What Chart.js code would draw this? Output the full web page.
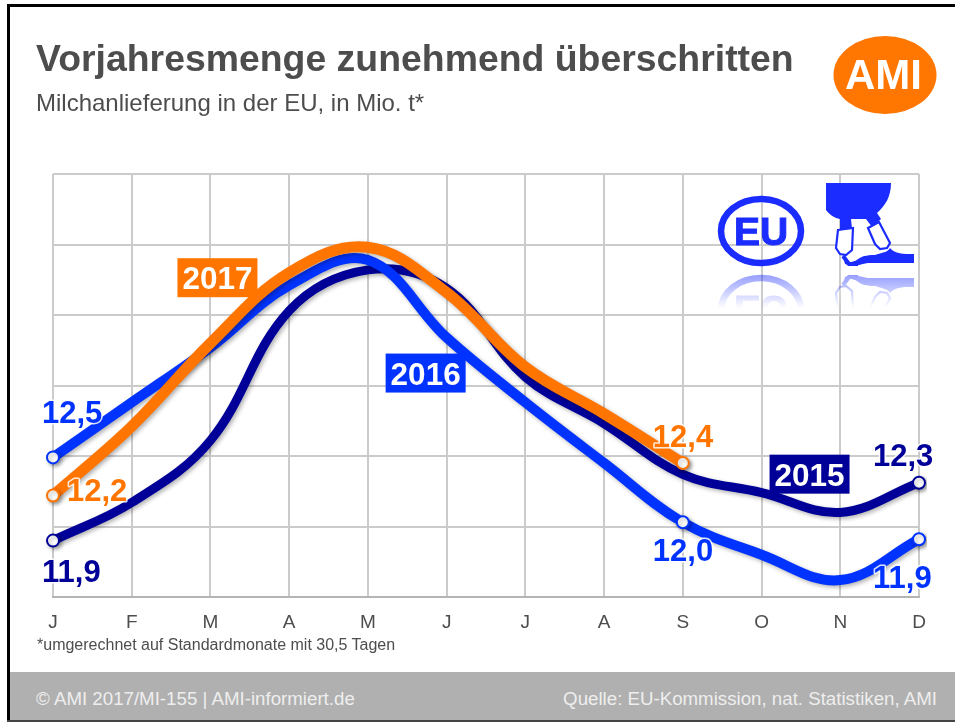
<!DOCTYPE html>
<html lang="de"><head><meta charset="utf-8"><title>Vorjahresmenge zunehmend überschritten</title>
<script src="https://cdn.jsdelivr.net/npm/chart.js@4/dist/chart.umd.min.js"></script>
<style>
html,body{margin:0;padding:0;background:#fff;width:955px;height:722px;overflow:hidden;font-family:"Liberation Sans",Arial,sans-serif}
#wrap{position:relative;width:955px;height:722px}
canvas{position:absolute;left:0;top:0}
.t{position:absolute;white-space:nowrap;line-height:1}
#frameT{position:absolute;left:7px;top:4px;right:0;height:3px;background:#000}
#frameL{position:absolute;left:7px;top:4px;width:3px;bottom:0;background:#000}
#foot{position:absolute;left:10px;right:0;top:672px;height:48px;background:#b0b0b0}
#frameB{position:absolute;left:7px;right:0;top:720px;height:2px;background:#444}
svg{position:absolute;left:0;top:0}
</style></head><body><div id="wrap">
<canvas id="c" width="955" height="722"></canvas>
<div id="frameT"></div><div id="frameL"></div><div id="foot"></div><div id="frameB"></div>
<div class="t" style="left:36px;top:40px;font-size:37.4px;font-weight:bold;color:#4d4d4d">Vorjahresmenge zunehmend überschritten</div>
<div class="t" style="left:36px;top:91px;font-size:24px;color:#4d4d4d">Milchanlieferung in der EU, in Mio. t*</div>
<div class="t" style="left:37px;top:637px;font-size:16px;color:#4d4d4d">*umgerechnet auf Standardmonate mit 30,5 Tagen</div>
<div class="t" style="left:36px;top:690px;font-size:18.7px;color:#eeeeee">© AMI 2017/MI-155 | AMI-informiert.de</div>
<div class="t" style="right:18px;top:690px;font-size:18.7px;color:#eeeeee">Quelle: EU-Kommission, nat. Statistiken, AMI</div>
<svg width="955" height="722" viewBox="0 0 955 722" font-family="Liberation Sans">
<defs>
<linearGradient id="fade" x1="0" y1="0" x2="0" y2="1"><stop offset="0" stop-color="#fff" stop-opacity=".5"/><stop offset="1" stop-color="#fff" stop-opacity="0"/></linearGradient>
<mask id="rm" maskUnits="userSpaceOnUse" x="700" y="272" width="230" height="36"><rect x="700" y="272" width="230" height="36" fill="url(#fade)"/></mask>
<g id="eu"><ellipse cx="761" cy="231" rx="40" ry="32" fill="none" stroke="#1a2cff" stroke-width="6.5"/><text x="761" y="245" text-anchor="middle" font-size="39" font-weight="bold" fill="#1a2cff" stroke="#1a2cff" stroke-width="1">EU</text></g>
<g id="milk" fill="#1a2cff" stroke="#1a2cff">
<path stroke="none" d="M826 183H891C891 197 885 206 877 213L881 219L872 227L866 219H851L852 229L840 229L840 219C834 218 829 214 826 210Z"/>
<path fill="#fff" stroke-width="2.2" d="M838 230L853 228L852 250L846 255L840 254L836 248Z"/>
<path fill="#fff" stroke-width="2.2" d="M868 228L879 222L890 243L887 248L880 249L875 244Z"/>
<path fill="none" stroke-width="4" d="M843 256L849 264H858"/>
<path stroke="none" d="M843 256L849 262C860 262 856 255 875 255C884 252 888 252 890 248C895 254 903 254 914 254V263H868C860 264 858 266 851 266L845 264Z"/>
</g></defs>
<ellipse cx="885" cy="75" rx="51.5" ry="39" fill="#ff7700"/>
<text x="883.5" y="89" text-anchor="middle" font-size="42" font-weight="bold" fill="#fff">AMI</text>
<use href="#eu"/><use href="#milk"/>
<g mask="url(#rm)"><use href="#eu" transform="translate(0,541) scale(1,-1)"/><use href="#milk" transform="translate(0,541) scale(1,-1)"/></g>
</svg>
</div>
<script>
const months = ['J','F','M','A','M','J','J','A','S','O','N','D'];
const values2015 = [11.90,12.17,12.61,13.53,13.82,13.69,13.06,12.73,12.37,12.24,12.10,12.31];
const values2016 = [12.49,12.88,13.27,13.71,13.89,13.34,12.88,12.45,12.03,11.80,11.62,11.91];
const values2017 = [12.22,12.71,13.30,13.80,13.98,13.66,13.13,12.80,12.45,null,null,null];
const markers2015 = [0,11];
const markers2016 = [0,8,11];
const markers2017 = [0,8];
const colour2015 = '#000099', colour2016 = '#0033ff', colour2017 = '#ff7500';

function ds(label,data,colour,width,marks,order){
  return {label,data,order,borderColor:colour,borderWidth:width,tension:.38,
    backgroundColor:'#fff',pointBackgroundColor:'#fff',pointBorderColor:colour,pointBorderWidth:2,
    pointRadius:c=>marks.includes(c.dataIndex)?6:0,borderCapStyle:'round',borderJoinStyle:'round',fill:false};
}
const shadow={id:'shadow',
  beforeDatasetDraw(ch){const x=ch.ctx;x.save();x.shadowColor='rgba(0,0,0,.3)';x.shadowBlur=4;x.shadowOffsetX=2;x.shadowOffsetY=2;},
  afterDatasetDraw(ch){ch.ctx.restore();}};
const annotations={id:'annotations',afterDatasetsDraw(ch){
  const x=ch.ctx,X=ch.scales.x,Y=ch.scales.y;
  const lab=(txt,col,i,v,dx,dy)=>{const px=X.getPixelForValue(i),py=Y.getPixelForValue(v);
    x.font='bold 31px "Liberation Sans"';x.textAlign='left';x.textBaseline='alphabetic';
    x.lineJoin='round';x.strokeStyle='rgba(255,255,255,.85)';x.lineWidth=3;x.strokeText(txt,px+dx,py+dy);
    x.fillStyle=col;x.fillText(txt,px+dx,py+dy);};
  lab('12,5',colour2016,0,values2016[0],-11,-34);
  lab('12,2',colour2017,0,values2017[0],14,6);
  lab('11,9',colour2015,0,values2015[0],-11,41);
  lab('12,4',colour2017,8,values2017[8],-30,-16);
  lab('12,0',colour2016,8,values2016[8],-30,39);
  lab('12,3',colour2015,11,values2015[11],-46,-17);
  lab('11,9',colour2016,11,values2016[11],-46,49);
  const badge=(txt,col,i,v,dx,dy)=>{const px=X.getPixelForValue(i)+dx,py=Y.getPixelForValue(v)+dy;
    x.fillStyle=col;x.fillRect(px,py,80,39);
    x.fillStyle='#fff';x.font='bold 31.5px "Liberation Sans"';x.textAlign='center';x.textBaseline='alphabetic';
    x.fillText(txt,px+40,py+31);};
  badge('2017',colour2017,2,13.30,-33,-85);
  badge('2016',colour2016,5,13.34,-61,16);
  badge('2015',colour2015,9,12.24,8,-38);
}};
new Chart(document.getElementById('c'),{
  type:'line',
  data:{labels:months,datasets:[
    ds('2017',values2017,colour2017,11,markers2017,1),
    ds('2016',values2016,colour2016,10,markers2016,2),
    ds('2015',values2015,colour2015,9,markers2015,3)]},
  plugins:[shadow,annotations],
  options:{responsive:false,animation:false,events:[],
    layout:{padding:{left:53,right:36,top:174,bottom:0}},
    plugins:{legend:{display:false},title:{display:false},tooltip:{enabled:false}},
    scales:{
      x:{offset:false,afterFit:s=>{s.height=125;},
        grid:{color:'#cbcbcb',lineWidth:2,drawTicks:false},border:{color:'#b4b4b4',width:2},
        ticks:{color:'#4d4d4d',font:{family:'Liberation Sans',size:19},padding:14,maxRotation:0,autoSkip:false}},
      y:{min:11.5,max:14.5,afterFit:s=>{s.width=0;},
        grid:{color:'#cbcbcb',lineWidth:2,drawTicks:false},border:{display:false},
        ticks:{display:false,stepSize:.5}}
    }}
});
</script></body></html>
